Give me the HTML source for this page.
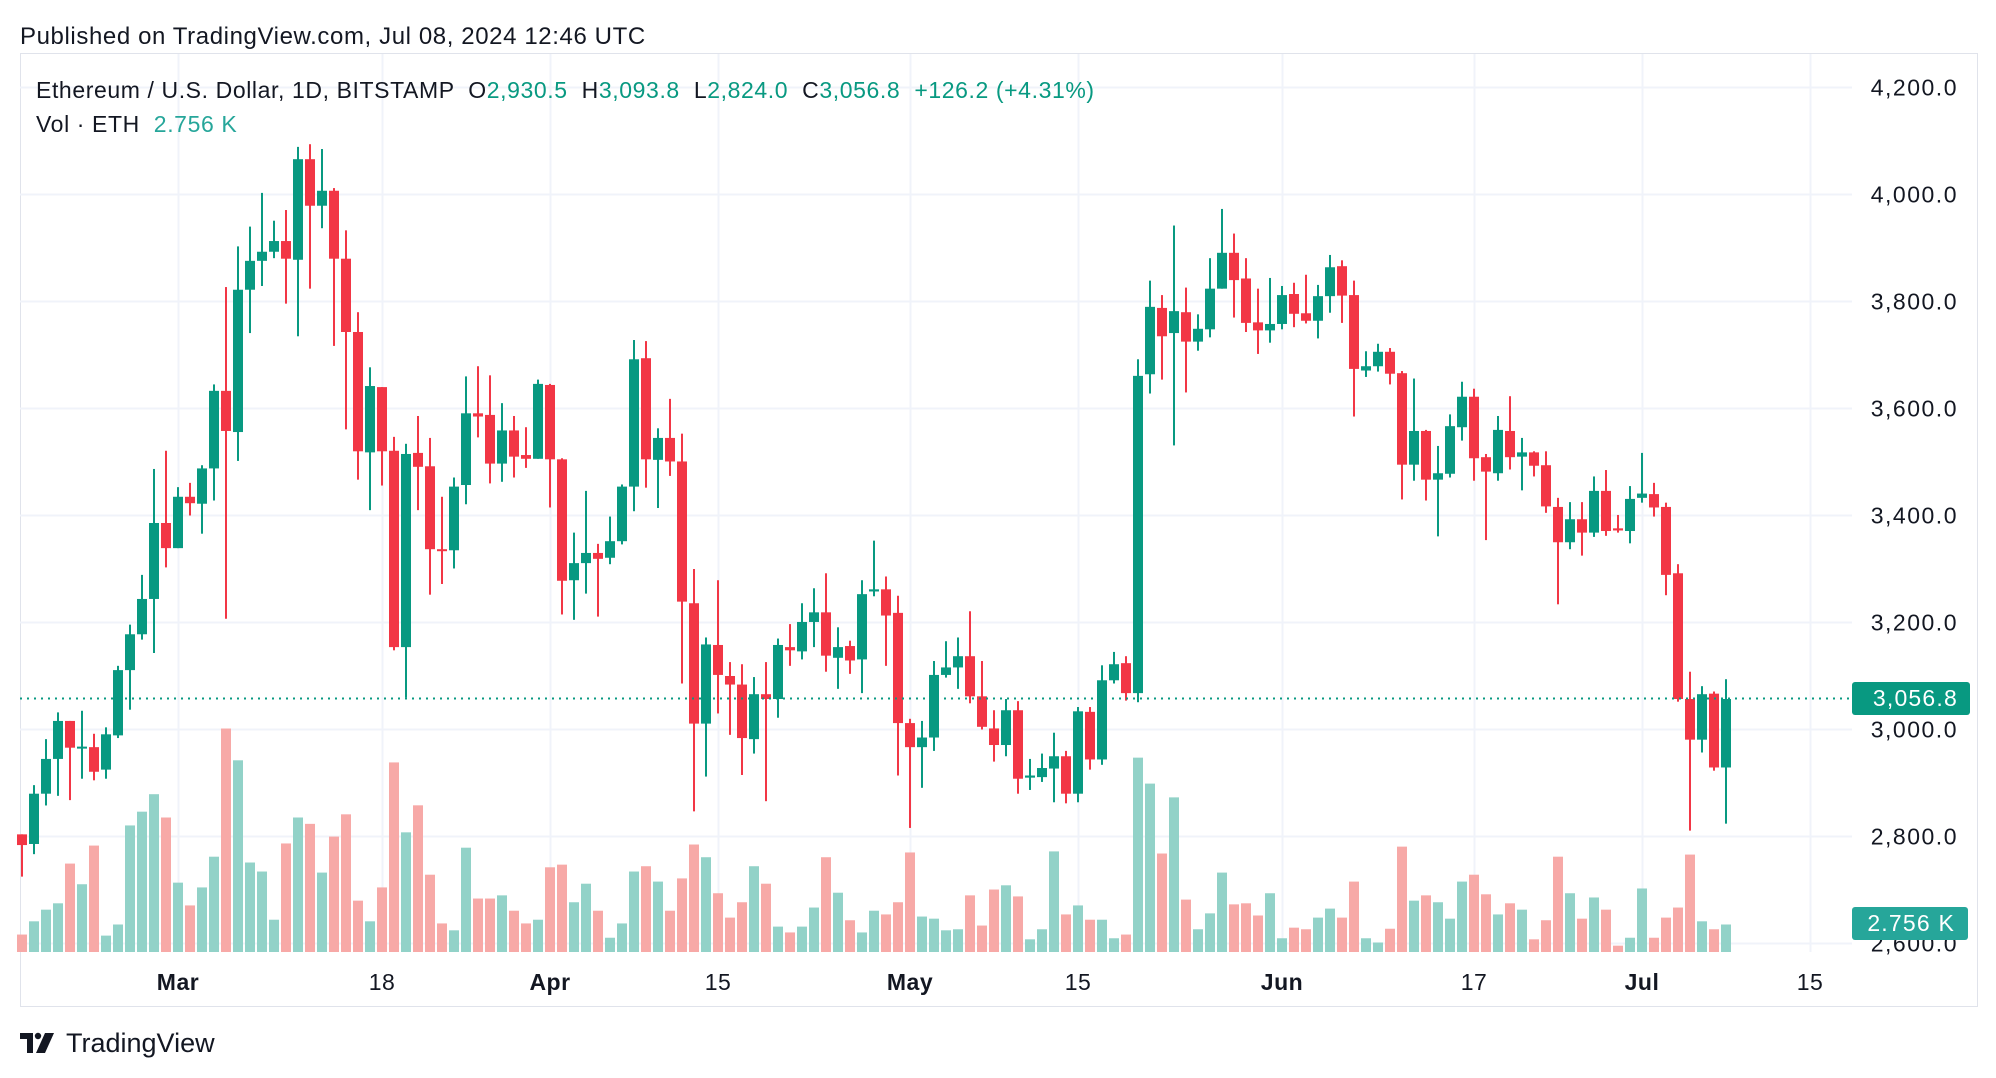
<!DOCTYPE html>
<html><head><meta charset="utf-8">
<style>
html,body{margin:0;padding:0;background:#fff;}
body{width:1996px;height:1078px;overflow:hidden;position:relative;font-family:"Liberation Sans",sans-serif;}
svg{position:absolute;left:0;top:0;}
text{white-space:pre;}
</style></head>
<body>
<svg id="s" width="1996" height="1078" xmlns="http://www.w3.org/2000/svg" font-family="Liberation Sans, sans-serif" xml:space="preserve">
<text x="20" y="44" font-size="24" letter-spacing="0.6" fill="#131722">Published on TradingView.com, Jul 08, 2024 12:46 UTC</text>
<rect x="20.5" y="53.5" width="1957" height="953" fill="none" stroke="#e0e3eb" stroke-width="1"/>
<g id="grid"></g>
<g id="vol"></g>
<g id="cdl"></g>
<line x1="20" y1="698.5" x2="1852" y2="698.5" stroke="#089981" stroke-width="2" stroke-dasharray="2,5"/>
<g id="axis" font-size="23" letter-spacing="1.5" fill="#131722" text-anchor="end"></g>
<rect x="1852" y="682" width="118" height="33" rx="3" fill="#089981"/>
<text x="1958" y="706" font-size="23" letter-spacing="1.2" fill="#fff" text-anchor="end">3,056.8</text>
<rect x="1852" y="907" width="116" height="33" rx="3" fill="#26a69a"/>
<text x="1955" y="931" font-size="23" letter-spacing="1.2" fill="#fff" text-anchor="end">2.756 K</text>
<text x="36" y="98" font-size="23" letter-spacing="0.6" fill="#131722">Ethereum / U.S. Dollar, 1D, BITSTAMP  O<tspan fill="#089981">2,930.5</tspan>  H<tspan fill="#089981">3,093.8</tspan>  L<tspan fill="#089981">2,824.0</tspan>  C<tspan fill="#089981">3,056.8</tspan>  <tspan fill="#089981">+126.2 (+4.31%)</tspan></text>
<text x="36" y="132" font-size="23" letter-spacing="0.6" fill="#131722">Vol · ETH  <tspan fill="#26a69a">2.756 K</tspan></text>
<g id="time" font-size="23" letter-spacing="0.5" fill="#131722" text-anchor="middle"></g>
<g transform="translate(20,1033)" fill="#131722">
<path d="M0 0 H13 V20 H7 V6 H0 Z"/><circle cx="18" cy="3" r="3.2"/><path d="M25 0 H34 L25 20 H16 Z"/>
</g>
<text x="66" y="1052" font-size="27" fill="#131722">TradingView</text>
</svg>
<script>
var D=[
[2804,2804,2725,2784,1519],[2786,2896,2767,2880,1494],[2880,2982,2858,2945,1472],[2945,3032,2876,3016,1460],[3016,3016,2868,2966,1385],[2966,3035,2908,2968,1424],[2967,2992,2905,2921,1351],[2925,3004,2908,2991,1521],[2989,3119,2984,3111,1500],[3111,3196,3037,3178,1313],[3178,3289,3168,3244,1287],[3244,3487,3143,3386,1254],[3386,3521,3303,3339,1298],
[3339,3453,3339,3435,1421],[3435,3461,3400,3423,1464],[3422,3494,3366,3488,1430],[3488,3645,3428,3633,1372],[3633,3827,3207,3558,1130],[3556,3903,3502,3822,1190],[3822,3940,3741,3876,1383],[3876,4003,3829,3893,1400],[3893,3951,3881,3913,1491],[3913,3971,3796,3880,1347],[3878,4089,3735,4066,1298],[4066,4094,3824,3979,1310],[3979,4085,3937,4007,1402],[4007,4012,3717,3880,1334],[3880,3933,3561,3743,1292],[3743,3780,3467,3520,1455],[3518,3677,3410,3642,1494],[3640,3640,3456,3520,1430],[3521,3547,3148,3154,1194],[3154,3534,3060,3515,1326],[3517,3586,3410,3491,1275],[3492,3545,3252,3337,1406],[3337,3435,3272,3335,1498],[3335,3471,3301,3454,1511],[3457,3660,3421,3591,1355],[3591,3679,3546,3585,1451],[3588,3662,3460,3497,1451],[3497,3610,3463,3559,1445],[3559,3586,3471,3510,1474],[3513,3565,3489,3506,1498],[3506,3654,3506,3646,1491],
[3644,3646,3415,3505,1392],[3505,3507,3215,3278,1387],[3279,3368,3205,3311,1458],[3311,3446,3254,3330,1423],[3330,3347,3211,3319,1474],[3321,3398,3309,3352,1525],[3352,3458,3346,3454,1498],[3454,3728,3408,3692,1400],[3694,3726,3452,3505,1390],[3504,3563,3414,3545,1419],[3545,3618,3474,3501,1474],[3501,3553,3086,3239,1413],[3236,3300,2847,3011,1349],[3011,3172,2912,3159,1373],[3158,3279,3030,3102,1441],[3100,3126,2990,3084,1487],[3084,3122,2915,2984,1458],[2982,3098,2955,3066,1390],[3066,3126,2866,3057,1423],[3057,3170,3022,3158,1504],[3154,3197,3119,3148,1515],[3146,3236,3131,3201,1504],[3201,3264,3154,3219,1468],[3219,3292,3108,3138,1373],[3134,3191,3076,3154,1440],[3156,3166,3104,3129,1492],[3131,3279,3068,3253,1515],[3258,3353,3249,3262,1474],[3262,3286,3119,3213,1481],[3218,3250,2914,3012,1458],
[3012,3020,2816,2967,1364],[2967,3016,2891,2985,1485],[2985,3128,2960,3102,1489],[3102,3165,3097,3116,1511],[3116,3172,3076,3137,1509],[3137,3221,3049,3062,1445],[3062,3128,3000,3005,1502],[3002,3036,2940,2971,1434],[2971,3057,2950,3036,1426],[3036,3053,2880,2908,1447],[2910,2945,2887,2914,1528],[2911,2955,2902,2928,1509],[2927,2994,2864,2950,1362],[2950,2960,2862,2880,1481],[2880,3042,2864,3034,1464],[3033,3042,2925,2944,1491],[2944,3120,2934,3092,1491],[3092,3145,3086,3122,1526],[3124,3137,3054,3068,1519],[3068,3692,3051,3661,1185],[3664,3839,3628,3790,1234],[3788,3812,3654,3735,1366],[3741,3942,3531,3782,1260],[3780,3826,3630,3725,1453],[3725,3776,3708,3749,1509],[3748,3881,3733,3824,1479],[3824,3973,3824,3891,1402],[3891,3927,3770,3840,1462],[3843,3881,3743,3760,1460],[3761,3824,3702,3746,1483],[3746,3844,3723,3758,1441],
[3758,3829,3748,3812,1526],[3814,3835,3752,3777,1506],[3778,3850,3759,3764,1509],[3764,3831,3731,3810,1487],[3810,3887,3779,3864,1470],[3866,3877,3760,3811,1487],[3812,3839,3585,3674,1419],[3671,3707,3659,3679,1526],[3679,3721,3669,3706,1534],[3706,3713,3645,3665,1508],[3666,3670,3430,3495,1353],[3495,3656,3465,3558,1455],[3558,3560,3428,3467,1445],[3467,3530,3361,3479,1458],[3478,3589,3471,3567,1489],[3565,3650,3540,3622,1419],[3622,3637,3465,3507,1406],[3509,3515,3354,3482,1443],[3479,3586,3465,3560,1481],[3558,3623,3486,3509,1460],[3510,3545,3447,3518,1472],[3518,3520,3473,3493,1528],[3494,3520,3405,3417,1492],[3416,3433,3234,3350,1372],[3350,3425,3337,3393,1441],[3393,3425,3325,3368,1489],[3368,3473,3360,3446,1449],[3446,3485,3362,3371,1472],[3376,3401,3368,3372,1540],[3371,3455,3348,3431,1525],
[3433,3517,3424,3441,1432],[3440,3461,3398,3415,1525],[3416,3424,3251,3289,1487],[3292,3309,3052,3057,1468],[3057,3108,2811,2981,1368],[2981,3081,2957,3066,1494],[3067,3071,2923,2929,1509],[2929,3094,2824,3057,1500]];
var NS="http://www.w3.org/2000/svg";
function el(p,t,a){var e=document.createElementNS(NS,t);for(var k in a)e.setAttribute(k,a[k]);document.getElementById(p).appendChild(e);return e;}
function Y(p){return 87.5+(4200-p)*0.535;}
var xs=[178,382,550,718,910,1078,1282,1474,1642,1810],lb=["Mar","18","Apr","15","May","15","Jun","17","Jul","15"];
for(var i=0;i<xs.length;i++){el("grid","line",{x1:xs[i]+.5,y1:54,x2:xs[i]+.5,y2:952,stroke:"#f0f3fa","stroke-width":2});
var t=el("time","text",{x:xs[i],y:990});t.textContent=lb[i];if(isNaN(+lb[i]))t.setAttribute("font-weight","bold");}
for(var p=4200;p>=2600;p-=200){var y=Y(p);el("grid","line",{x1:20,y1:y,x2:1852,y2:y,stroke:"#f0f3fa","stroke-width":2});
var t=el("axis","text",{x:1958,y:y+8});t.textContent=(p/1000|0)+","+String(p%1000).padStart(3,"0")+".0";}
for(var i=0;i<D.length;i++){var d=D[i],x=178+(i-13)*12,up=d[3]>=d[0],c=up?"#089981":"#f23645";
var vt=130+d[4]/1.888;el("vol","rect",{x:x-5,y:vt,width:10,height:952-vt,fill:up?"#92d2c8":"#f7a9a7"});
el("cdl","rect",{x:x-1,y:Y(d[1]),width:2,height:Y(d[2])-Y(d[1]),fill:c});
var t1=Y(Math.max(d[0],d[3])),b1=Y(Math.min(d[0],d[3]));el("cdl","rect",{x:x-5,y:t1,width:10,height:Math.max(2,b1-t1),fill:c});}
</script>
</body></html>
